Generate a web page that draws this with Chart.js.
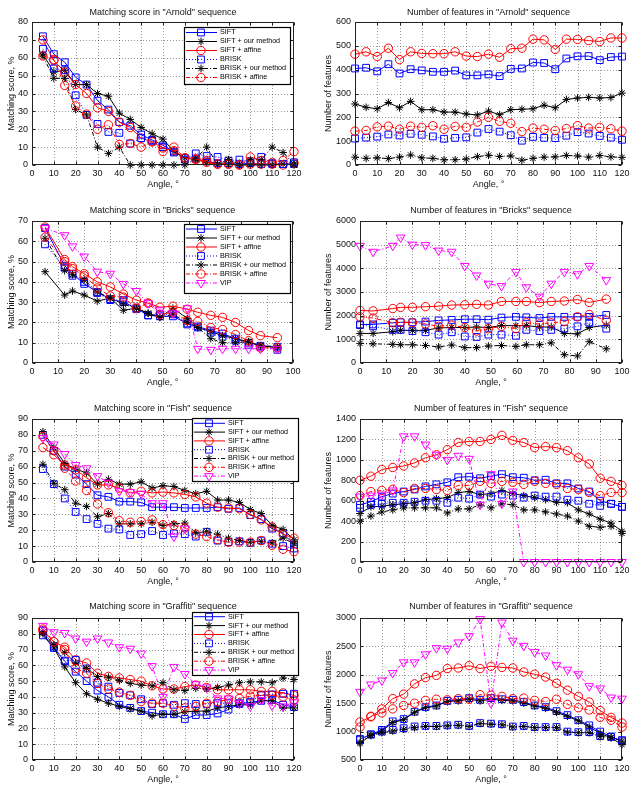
<!DOCTYPE html>
<html>
<head>
<meta charset="utf-8">
<script src="https://cdn.jsdelivr.net/npm/chart.js@4.4.1/dist/chart.umd.min.js"></script>
<style>
html, body { margin: 0; padding: 0; background: #fff; overflow: hidden; }
#page { position: relative; width: 635px; height: 787px; }
canvas { position: absolute; }
</style>
</head>
<body>
<div id="page"></div>
<script>
// Angles (x values)
const anglesFrom0 = [0, 5, 10, 15, 20, 25, 30, 35, 40, 45, 50, 55, 60, 65, 70, 75, 80, 85, 90, 95, 100, 105, 110, 115, 120];
const anglesFrom5 = [5, 10, 15, 20, 25, 30, 35, 40, 45, 50, 55, 60, 65, 70, 75, 80, 85, 90, 95, 100, 105, 110, 115, 120];
const bricksAngles = [0, 5, 12.5, 15.5, 20, 25, 30, 35, 40, 44.5, 49, 54, 59.5, 63.5, 68.5, 73, 78, 83, 87.5, 94];
const bricksScoreAngles = [5, 12.5, 15.5, 20, 25, 30, 35, 40, 44.5, 49, 54, 59.5, 63.5, 68.5, 73, 78, 83, 87.5, 94];
const fishVipScoreAngles = [5, 10, 15, 20, 25, 30, 35, 40, 45, 50, 55, 60, 65, 70];

// Tick labels
const xTicks120 = [0, 10, 20, 30, 40, 50, 60, 70, 80, 90, 100, 110, 120];
const xTicks100 = [0, 10, 20, 30, 40, 50, 60, 70, 80, 90, 100];
const yTicksArnoldScore = [0, 10, 20, 30, 40, 50, 60, 70, 80];
const yTicksArnoldFeat = [0, 100, 200, 300, 400, 500, 600];
const yTicksBricksScore = [0, 10, 20, 30, 40, 50, 60, 70];
const yTicksBricksFeat = [0, 1000, 2000, 3000, 4000, 5000, 6000];
const yTicksFishScore = [0, 10, 20, 30, 40, 50, 60, 70, 80, 90];
const yTicksFishFeat = [0, 200, 400, 600, 800, 1000, 1200, 1400];
const yTicksGraffitiScore = [0, 10, 20, 30, 40, 50, 60, 70, 80, 90];
const yTicksGraffitiFeat = [500, 1000, 1500, 2000, 2500, 3000];

// Arnold - matching score
const arnoldScoreSift = [72, 62, 57.5, 49, 45, 36, 31, 24, 22, 17, 14, 11, 7.5, 4, 3.5, 2, 1, 1, 0.5, 1, 0.5, 0.5, 0.5, 0.5];
const arnoldScoreSiftOur = [62, 52, 53, 45, 45, 40, 38.5, 29, 25.5, 21, 17.5, 14.5, 7.5, 4, 3, 1.5, 0.5, 0.5, 0, 0, 0, 0, 0.5, 0];
const arnoldScoreSiftAffine = [70, 58.5, 52, 45, 40, 32, 30, 24, 21, 15, 13, 9.5, 8, 4, 3.5, 1.5, 0.5, 0.5, 0, 0.5, 0.5, 0.5, 0, 1];
const arnoldScoreBrisk = [65, 54, 53, 39, 28, 23, 18.5, 18, 12, 15, 13.5, 10, 7, 3, 6.5, 5, 4.5, 2.5, 3, 2, 4.5, 1, 0.5, 1.5];
const arnoldScoreBriskOur = [61, 48.5, 48.5, 31, 28, 10, 6.5, 10, 0, 0, 0, 0, 0, 0, 3.5, 10, 0.5, 3, 0, 3, 3, 10, 7, 0.5];
const arnoldScoreBriskAffine = [61, 59, 44.5, 33, 28.5, 20, 22.5, 11.5, 12, 10, 13, 7.5, 10, 4, 3, 2.5, 0.5, 0.5, 0, 4.5, 2.5, 1.5, 2.5, 7.5];

// Arnold - number of features
const arnoldFeatSift = [405, 408, 393, 423, 384, 402, 397, 391, 391, 396, 376, 376, 380, 373, 403, 405, 430, 428, 402, 447, 456, 457, 440, 453, 455];
const arnoldFeatSiftOur = [256, 242, 236, 262, 240, 267, 232, 232, 222, 222, 214, 210, 226, 211, 232, 234, 236, 251, 240, 275, 281, 284, 281, 283, 302];
const arnoldFeatSiftAffine = [465, 475, 455, 490, 442, 475, 468, 467, 467, 475, 457, 455, 465, 452, 488, 490, 528, 525, 485, 528, 527, 522, 518, 533, 533];
const arnoldFeatBrisk = [111, 115, 119, 128, 124, 131, 127, 120, 110, 114, 116, 136, 151, 140, 125, 102, 118, 114, 113, 123, 138, 132, 122, 115, 106];
const arnoldFeatBriskOur = [33, 28, 30, 27, 33, 42, 30, 28, 22, 22, 25, 35, 41, 36, 38, 20, 28, 33, 34, 40, 38, 33, 40, 34, 32];
const arnoldFeatBriskAffine = [142, 145, 160, 163, 150, 163, 158, 165, 150, 162, 158, 180, 200, 183, 175, 140, 155, 150, 145, 153, 165, 155, 158, 152, 142];

// Bricks - matching score
const bricksScoreSift = [66.5, 48, 44, 39, 35, 31.5, 30, 27, 23.5, 23, 23, 19.5, 18, 16, 14.5, 12, 10, 8.5, 8];
const bricksScoreSiftOur = [45, 33.5, 35.5, 33.5, 30.5, 32, 26, 27, 24.5, 22.5, 27, 22, 17.5, 15.5, 13.5, 12, 10.5, 8.5, 7.5];
const bricksScoreSiftAffine = [67, 51, 47.5, 44, 40, 37.5, 34, 31, 29.5, 27.5, 28, 26.5, 25, 23.5, 22.5, 20, 16, 13.5, 12.5];
const bricksScoreBrisk = [58.5, 47, 43, 40, 34.5, 31, 31, 26.5, 23.5, 24, 24, 19, 17.5, 15, 13, 11, 9, 8, 6.5];
const bricksScoreBriskOur = [61.5, 45.5, 43.5, 41, 35, 32, 29, 27, 24.5, 22.5, 24, 20, 17.5, 12, 10, 10, 10.5, 8.5, 8];
const bricksScoreBriskAffine = [62, 50, 46.5, 43, 37, 33, 32.5, 27, 29.5, 24, 25, 21, 20.5, 17.5, 16.5, 14, 11, 7.5, 7.5];
const bricksScoreVip = [66.5, 63, 57.5, 52.5, 45, 44, 39, 35.5, 29.5, 26, 24.5, 27, 7, 6.5, 7, 7, 7, 7, 7];

// Bricks - number of features
const bricksFeatSift = [1630, 1630, 1700, 1720, 1720, 1750, 1800, 1820, 1850, 1850, 1830, 1920, 1950, 1930, 1900, 1950, 1950, 1950, 1950, 2030];
const bricksFeatSiftOur = [1250, 1250, 1320, 1380, 1380, 1380, 1480, 1500, 1500, 1520, 1500, 1580, 1580, 1580, 1520, 1520, 1250, 1230, 1500, 1600];
const bricksFeatSiftAffine = [2220, 2200, 2300, 2350, 2350, 2380, 2400, 2450, 2460, 2480, 2450, 2600, 2600, 2600, 2550, 2600, 2620, 2680, 2560, 2700];
const bricksFeatBrisk = [1600, 1550, 1400, 1400, 1350, 1300, 1200, 1300, 1120, 1100, 1200, 1200, 1150, 1400, 1350, 1400, 1450, 1550, 1700, 1450];
const bricksFeatBriskOur = [830, 810, 790, 770, 770, 740, 680, 760, 650, 650, 720, 740, 700, 770, 770, 850, 350, 300, 900, 600];
const bricksFeatBriskAffine = [1950, 1900, 1700, 1720, 1700, 1650, 1550, 1600, 1500, 1350, 1450, 1550, 1450, 1700, 1650, 1700, 1750, 1950, 2050, 1800];
const bricksFeatVip = [4950, 4700, 4950, 5300, 5000, 4980, 4750, 4700, 4100, 3700, 3350, 3250, 3850, 3200, 2800, 3350, 3850, 3750, 4100, 3500];

// Fish - matching score
const fishScoreSift = [80, 70, 60, 55, 49, 42, 41, 38, 38, 37.5, 34.5, 34.5, 34.5, 34, 34, 34, 34.5, 33.5, 34, 29.5, 27, 21, 18, 11];
const fishScoreSiftOur = [82, 72, 62, 58.5, 56, 49, 52, 49, 49, 50.5, 46.5, 48, 47.5, 45, 43, 44.5, 39, 39, 37.5, 33, 30.5, 23, 20.5, 14];
const fishScoreSiftAffine = [72, 67.5, 61, 58, 53, 48.5, 48.5, 46.5, 43.5, 44.5, 43.5, 44, 43.5, 42.5, 41, 37, 34.5, 34, 33.5, 30, 26.5, 22, 17.5, 15];
const fishScoreBrisk = [58.5, 49, 40, 31.5, 27, 24, 21, 20.5, 17, 17.5, 19.5, 17, 18, 17.5, 16, 19, 13.5, 12.5, 13, 12, 13.5, 11.5, 10, 8.5];
const fishScoreBriskOur = [61.5, 49.5, 45.5, 37, 35, 28.5, 30.5, 24, 24, 24, 25, 23, 24, 24.5, 18.5, 19, 17.5, 15, 13.5, 12.5, 13, 12, 15, 11.5];
const fishScoreBriskAffine = [79, 70, 59, 51, 45, 36.5, 31, 26, 25, 25.5, 26.5, 23.5, 23, 21.5, 17.5, 16, 14, 12.5, 12.5, 12.5, 13.5, 10.5, 8, 6.5];
const fishScoreVip = [78, 74, 68, 61, 59, 54, 50, 44.5, 44, 43, 37, 37, 16, 21];

// Fish - number of features
const fishFeatSift = [560, 590, 640, 670, 690, 710, 740, 760, 780, 830, 835, 820, 840, 860, 830, 825, 800, 805, 770, 770, 720, 690, 600, 570, 540];
const fishFeatSiftOur = [475, 540, 545, 560, 570, 580, 610, 620, 630, 680, 690, 660, 670, 700, 670, 650, 630, 610, 585, 580, 510, 470, 420, 380, 300];
const fishFeatSiftAffine = [800, 840, 905, 925, 940, 970, 1020, 1050, 1100, 1170, 1180, 1180, 1200, 1240, 1190, 1170, 1120, 1130, 1120, 1090, 1020, 960, 820, 790, 750];
const fishFeatBrisk = [530, 560, 570, 580, 580, 590, 600, 600, 580, 630, 620, 660, 640, 660, 650, 630, 650, 640, 640, 610, 600, 570, 550, 570, 540];
const fishFeatBriskOur = [400, 450, 490, 510, 530, 530, 530, 530, 480, 520, 520, 560, 530, 570, 560, 510, 510, 490, 470, 450, 400, 350, 340, 350, 280];
const fishFeatBriskAffine = [650, 690, 700, 710, 680, 720, 720, 710, 700, 750, 750, 790, 770, 790, 780, 760, 790, 770, 760, 720, 710, 680, 650, 680, 680];
const fishFeatVip = [640, 650, 660, 700, 1230, 1230, 1150, 1050, 1000, 1040, 1010, 560, 860, 570, 690, 0, 0, 0, 0, 0, 0, 0, 0, 0, 0];

// Graffiti - matching score
const graffitiScoreSift = [79, 71, 62.5, 56, 50, 44, 40, 35, 33, 31, 30, 29, 29, 26, 28.5, 28.5, 29.5, 32, 35.5, 36.5, 37.5, 38, 35, 33.5];
const graffitiScoreSiftOur = [80, 71, 59, 49, 42, 38.5, 36, 34, 32.5, 31, 28, 29, 29, 30.5, 31, 31, 33, 34, 35, 35, 37.5, 37.5, 33, 33];
const graffitiScoreSiftAffine = [82, 75, 71.5, 63.5, 61.5, 55, 53, 52, 51, 50, 47, 45, 45, 46.5, 47.5, 46, 44.5, 44.5, 44.5, 44.5, 43.5, 43.5, 42.5, 41];
const graffitiScoreBrisk = [82, 72, 63, 63.5, 58, 49, 46.5, 42.5, 41, 38.5, 35.5, 36, 35, 36, 35.5, 35.5, 36, 36, 36, 37, 41, 41.5, 42, 42];
const graffitiScoreBriskOur = [81, 73, 68, 61.5, 58, 53, 52.5, 50.5, 48.5, 47.5, 47, 49, 44.5, 44, 45.5, 45, 46, 47.5, 49, 49.5, 49.5, 49, 52, 51];
const graffitiScoreBriskAffine = [83, 75, 70, 58, 55, 48.5, 45, 43, 41, 37, 36, 36, 34, 33, 34, 36, 37, 38.5, 39, 40.5, 41, 41, 40, 38];
const graffitiScoreVip = [85, 81, 80.5, 77, 75, 77, 74.5, 71.5, 70.5, 67.5, 59.5, 40, 59, 54.5, 48, 46, 39, 39, 36, 34, 38, 34.5, 34, 36.5];

// Graffiti - number of features
const graffitiFeatSift = [870, 950, 1030, 1180, 1220, 1350, 1430, 1460, 1540, 1560, 1590, 1560, 1590, 1570, 1560, 1520, 1460, 1430, 1360, 1290, 1200, 1110, 1000, 910, 830];
const graffitiFeatSiftOur = [790, 940, 1010, 1160, 1210, 1340, 1420, 1450, 1530, 1540, 1570, 1540, 1570, 1550, 1540, 1500, 1450, 1410, 1340, 1270, 1190, 1080, 970, 890, 770];
const graffitiFeatSiftAffine = [1170, 1260, 1400, 1580, 1660, 1840, 1950, 1990, 2110, 2120, 2160, 2110, 2150, 2130, 2120, 2050, 2010, 1960, 1850, 1730, 1620, 1520, 1370, 1250, 1150];
const graffitiFeatBrisk = [850, 950, 1000, 1030, 1060, 1090, 1100, 1100, 1110, 1120, 1100, 1150, 1140, 1130, 1090, 1100, 1080, 1080, 1080, 1000, 990, 990, 920, 910, 850];
const graffitiFeatBriskOur = [810, 930, 980, 1010, 1040, 1070, 1090, 1090, 1100, 1110, 1090, 1140, 1130, 1120, 1080, 1090, 1070, 1070, 1070, 990, 980, 980, 910, 900, 830];
const graffitiFeatBriskAffine = [1080, 1270, 1330, 1400, 1460, 1500, 1550, 1570, 1560, 1580, 1570, 1650, 1640, 1620, 1580, 1590, 1550, 1530, 1570, 1480, 1420, 1380, 1250, 1200, 1080];
const graffitiFeatVip = [1700, 1830, 1900, 2030, 2220, 2220, 2360, 2470, 2460, 2570, 2680, 2980, 1500, 2920, 2600, 2510, 2400, 2340, 2170, 2090, 2010, 1800, 1760, 1600, 1580];

// Series look (MATLAB-like)
const DASHDOT = [4, 2, 1, 2];
const STYLES = {
    sift:        { label: 'SIFT',               color: '#0000ff', dash: [],      point: 'rect',     r: 4.8 },
    siftOur:     { label: 'SIFT + our method',  color: '#000000', dash: [],      point: 'star',     r: 3.8 },
    siftAffine:  { label: 'SIFT + affine',      color: '#ff0000', dash: [],      point: 'circle',   r: 4.2 },
    brisk:       { label: 'BRISK',              color: '#0000ff', dash: [1, 2],  point: 'rect',     r: 4.8 },
    briskOur:    { label: 'BRISK + our method', color: '#000000', dash: DASHDOT, point: 'star',     r: 3.8 },
    briskAffine: { label: 'BRISK + affine',     color: '#ff0000', dash: DASHDOT, point: 'circle',   r: 4.2 },
    vip:         { label: 'VIP',                color: '#ff00ff', dash: DASHDOT, point: 'triangle', r: 5, rot: 180 }
};

const SCORE_TITLE = 'Matching score, %';
const FEAT_TITLE = 'Number of features';

// plot: [left, top, right, bottom] in page pixels
const panels = [
    { title: 'Matching score in "Arnold" sequence', yTitle: SCORE_TITLE, col: 0, plot: [32, 22, 294, 165], titleY: 13,
      xMax: 120, xTicks: xTicks120, yTicks: yTicksArnoldScore,
      series: [['sift', anglesFrom5, arnoldScoreSift], ['siftOur', anglesFrom5, arnoldScoreSiftOur], ['siftAffine', anglesFrom5, arnoldScoreSiftAffine],
               ['brisk', anglesFrom5, arnoldScoreBrisk], ['briskOur', anglesFrom5, arnoldScoreBriskOur], ['briskAffine', anglesFrom5, arnoldScoreBriskAffine]],
      legend: { x: 184, y: 27, w: 106, h: 57, first: 5.5, step: 9 } },
    { title: 'Number of features in "Arnold" sequence', yTitle: FEAT_TITLE, col: 1, plot: [355, 22, 622, 165], titleY: 13,
      xMax: 120, xTicks: xTicks120, yTicks: yTicksArnoldFeat,
      series: [['sift', anglesFrom0, arnoldFeatSift], ['siftOur', anglesFrom0, arnoldFeatSiftOur], ['siftAffine', anglesFrom0, arnoldFeatSiftAffine],
               ['brisk', anglesFrom0, arnoldFeatBrisk], ['briskOur', anglesFrom0, arnoldFeatBriskOur], ['briskAffine', anglesFrom0, arnoldFeatBriskAffine]] },
    { title: 'Matching score in "Bricks" sequence', yTitle: SCORE_TITLE, col: 0, plot: [32, 221, 293, 363], titleY: 211,
      xMax: 100, xTicks: xTicks100, yTicks: yTicksBricksScore,
      series: [['sift', bricksScoreAngles, bricksScoreSift], ['siftOur', bricksScoreAngles, bricksScoreSiftOur], ['siftAffine', bricksScoreAngles, bricksScoreSiftAffine],
               ['brisk', bricksScoreAngles, bricksScoreBrisk], ['briskOur', bricksScoreAngles, bricksScoreBriskOur], ['briskAffine', bricksScoreAngles, bricksScoreBriskAffine],
               ['vip', bricksScoreAngles, bricksScoreVip]],
      legend: { x: 184, y: 224, w: 106, h: 69, first: 5, step: 9 } },
    { title: 'Number of features in "Bricks" sequence', yTitle: FEAT_TITLE, col: 1, plot: [360, 221, 622, 363], titleY: 211,
      xMax: 100, xTicks: xTicks100, yTicks: yTicksBricksFeat,
      series: [['sift', bricksAngles, bricksFeatSift], ['siftOur', bricksAngles, bricksFeatSiftOur], ['siftAffine', bricksAngles, bricksFeatSiftAffine],
               ['brisk', bricksAngles, bricksFeatBrisk], ['briskOur', bricksAngles, bricksFeatBriskOur], ['briskAffine', bricksAngles, bricksFeatBriskAffine],
               ['vip', bricksAngles, bricksFeatVip]] },
    { title: 'Matching score in "Fish" sequence', yTitle: SCORE_TITLE, col: 0, plot: [32, 419, 294, 562], titleY: 409,
      xMax: 120, xTicks: xTicks120, yTicks: yTicksFishScore,
      series: [['sift', anglesFrom5, fishScoreSift], ['siftOur', anglesFrom5, fishScoreSiftOur], ['siftAffine', anglesFrom5, fishScoreSiftAffine],
               ['brisk', anglesFrom5, fishScoreBrisk], ['briskOur', anglesFrom5, fishScoreBriskOur], ['briskAffine', anglesFrom5, fishScoreBriskAffine],
               ['vip', fishVipScoreAngles, fishScoreVip]],
      legend: { x: 192, y: 418, w: 106, h: 63, first: 5.3, step: 8.8 } },
    { title: 'Number of features in "Fish" sequence', yTitle: FEAT_TITLE, col: 1, plot: [360, 419, 622, 562], titleY: 409,
      xMax: 120, xTicks: xTicks120, yTicks: yTicksFishFeat,
      series: [['sift', anglesFrom0, fishFeatSift], ['siftOur', anglesFrom0, fishFeatSiftOur], ['siftAffine', anglesFrom0, fishFeatSiftAffine],
               ['brisk', anglesFrom0, fishFeatBrisk], ['briskOur', anglesFrom0, fishFeatBriskOur], ['briskAffine', anglesFrom0, fishFeatBriskAffine],
               ['vip', anglesFrom0, fishFeatVip]] },
    { title: 'Matching score in "Graffiti" sequence', yTitle: SCORE_TITLE, col: 0, plot: [32, 618, 294, 760], titleY: 607,
      xMax: 120, xTicks: xTicks120, yTicks: yTicksGraffitiScore,
      series: [['sift', anglesFrom5, graffitiScoreSift], ['siftOur', anglesFrom5, graffitiScoreSiftOur], ['siftAffine', anglesFrom5, graffitiScoreSiftAffine],
               ['brisk', anglesFrom5, graffitiScoreBrisk], ['briskOur', anglesFrom5, graffitiScoreBriskOur], ['briskAffine', anglesFrom5, graffitiScoreBriskAffine],
               ['vip', anglesFrom5, graffitiScoreVip]],
      legend: { x: 192, y: 612, w: 106, h: 63, first: 4.7, step: 8.9 } },
    { title: 'Number of features in "Graffiti" sequence', yTitle: FEAT_TITLE, col: 1, plot: [360, 618, 622, 760], titleY: 607,
      xMax: 120, xTicks: xTicks120, yTicks: yTicksGraffitiFeat,
      series: [['sift', anglesFrom0, graffitiFeatSift], ['siftOur', anglesFrom0, graffitiFeatSiftOur], ['siftAffine', anglesFrom0, graffitiFeatSiftAffine],
               ['brisk', anglesFrom0, graffitiFeatBrisk], ['briskOur', anglesFrom0, graffitiFeatBriskOur], ['briskAffine', anglesFrom0, graffitiFeatBriskAffine],
               ['vip', anglesFrom0, graffitiFeatVip]] }
];

Chart.defaults.font.family = '"Liberation Sans", Arial, sans-serif';
Chart.defaults.font.size = 9;
Chart.defaults.color = '#111';

function drawMarker(ctx, st, x, y) {
    const r = st.r;
    ctx.beginPath();
    if (st.point === 'rect') {
        const s = r * Math.SQRT1_2;
        ctx.rect(x - s, y - s, 2 * s, 2 * s);
    } else if (st.point === 'circle') {
        ctx.arc(x, y, r, 0, Math.PI * 2);
    } else if (st.point === 'star') {
        for (let k = 0; k < 4; k++) {
            const a = k * Math.PI / 4;
            ctx.moveTo(x - Math.cos(a) * r, y - Math.sin(a) * r);
            ctx.lineTo(x + Math.cos(a) * r, y + Math.sin(a) * r);
        }
    } else if (st.point === 'triangle') {
        let a = (st.rot || 0) * Math.PI / 180;
        ctx.moveTo(x + Math.sin(a) * r, y - Math.cos(a) * r);
        a += Math.PI * 2 / 3;
        ctx.lineTo(x + Math.sin(a) * r, y - Math.cos(a) * r);
        a += Math.PI * 2 / 3;
        ctx.lineTo(x + Math.sin(a) * r, y - Math.cos(a) * r);
        ctx.closePath();
    }
    ctx.stroke();
}

// grid, box and inward ticks, title and legend
function makeDecor(p, cx, cy) {
    return {
        id: 'matlabDecor',
        beforeDatasetsDraw(chart) {
            const { ctx, chartArea: a, scales: { x, y } } = chart;
            ctx.save();
            ctx.strokeStyle = 'rgba(0,0,0,0.4)';
            ctx.lineWidth = 1;
            ctx.setLineDash([1, 2]);
            x.ticks.forEach(t => {
                const px = Math.round(x.getPixelForValue(t.value)) + 0.5;
                if (px <= a.left + 1 || px >= a.right - 1) return;
                ctx.beginPath(); ctx.moveTo(px, a.top); ctx.lineTo(px, a.bottom); ctx.stroke();
            });
            y.ticks.forEach(t => {
                const py = Math.round(y.getPixelForValue(t.value)) + 0.5;
                if (py <= a.top + 1 || py >= a.bottom - 1) return;
                ctx.beginPath(); ctx.moveTo(a.left, py); ctx.lineTo(a.right, py); ctx.stroke();
            });
            ctx.restore();
        },
        afterDraw(chart) {
            const { ctx, chartArea: a, scales: { x, y } } = chart;
            ctx.save();
            ctx.strokeStyle = '#222';
            ctx.lineWidth = 1;
            const L = Math.round(a.left) + 0.5, R = Math.round(a.right) - 0.5;
            const T = Math.round(a.top) + 0.5, B = Math.round(a.bottom) - 0.5;
            ctx.strokeRect(L, T, R - L, B - T);
            ctx.beginPath();
            x.ticks.forEach(t => {
                const px = Math.round(x.getPixelForValue(t.value)) + 0.5;
                ctx.moveTo(px, B); ctx.lineTo(px, B - 3);
                ctx.moveTo(px, T); ctx.lineTo(px, T + 3);
            });
            y.ticks.forEach(t => {
                const py = Math.round(y.getPixelForValue(t.value)) + 0.5;
                ctx.moveTo(L, py); ctx.lineTo(L + 3, py);
                ctx.moveTo(R, py); ctx.lineTo(R - 3, py);
            });
            ctx.stroke();

            // title
            ctx.fillStyle = '#111';
            ctx.font = '9px "Liberation Sans", Arial, sans-serif';
            ctx.textAlign = 'center';
            ctx.textBaseline = 'middle';
            ctx.fillText(p.title, (a.left + a.right) / 2, p.titleY - cy);

            // legend
            if (p.legend) {
                const lg = p.legend;
                const lx = lg.x - cx, ly = lg.y - cy;
                ctx.fillStyle = '#fff';
                ctx.fillRect(lx, ly, lg.w, lg.h);
                ctx.strokeStyle = '#000';
                ctx.lineWidth = 1.2;
                ctx.strokeRect(lx + 0.5, ly + 0.5, lg.w, lg.h);
                ctx.font = '7.2px "Liberation Sans", Arial, sans-serif';
                ctx.textAlign = 'left';
                p.series.forEach((s, i) => {
                    const st = STYLES[s[0]];
                    const ry = ly + lg.first + i * lg.step;
                    ctx.strokeStyle = st.color;
                    ctx.lineWidth = 1;
                    ctx.setLineDash(st.dash);
                    ctx.beginPath(); ctx.moveTo(lx + 2, ry); ctx.lineTo(lx + 33, ry); ctx.stroke();
                    ctx.setLineDash([]);
                    drawMarker(ctx, st, lx + 17, ry);
                    ctx.fillStyle = '#000';
                    ctx.fillText(st.label, lx + 36, ry);
                });
            }
            ctx.restore();
        }
    };
}

const page = document.getElementById('page');

panels.forEach(p => {
    const [pl, pt, pr, pb] = p.plot;
    const cx = p.col ? 317 : 0;
    const cw = p.col ? 318 : 317;
    const cy = pt - 22;
    const ch = pb - cy + 30;
    const canvas = document.createElement('canvas');
    canvas.width = cw;
    canvas.height = ch;
    canvas.style.left = cx + 'px';
    canvas.style.top = cy + 'px';
    page.appendChild(canvas);

    const n = p.series.length;
    new Chart(canvas, {
        type: 'line',
        data: {
            datasets: p.series.map((s, i) => {
                const st = STYLES[s[0]];
                return {
                    label: st.label,
                    data: s[2].map((v, j) => ({ x: s[1][j], y: v })),
                    borderColor: st.color,
                    borderWidth: 1,
                    borderDash: st.dash,
                    pointStyle: st.point,
                    pointRadius: st.r,
                    pointRotation: st.rot || 0,
                    pointBorderColor: st.color,
                    pointBackgroundColor: 'rgba(0,0,0,0)',
                    pointBorderWidth: 1,
                    fill: false,
                    tension: 0,
                    clip: false,
                    order: n - i
                };
            })
        },
        options: {
            responsive: false,
            animation: false,
            devicePixelRatio: 1,
            layout: { padding: { left: 0, top: pt - cy, right: cx + cw - pr, bottom: 0 } },
            plugins: { legend: { display: false }, tooltip: { enabled: false }, title: { display: false } },
            scales: {
                x: {
                    type: 'linear', min: 0, max: p.xMax,
                    afterBuildTicks: s => { s.ticks = p.xTicks.map(v => ({ value: v })); },
                    ticks: { autoSkip: false, maxRotation: 0, padding: 3.5, color: '#111', callback: v => String(v) },
                    grid: { display: false, drawTicks: false },
                    border: { display: false },
                    title: { display: true, text: 'Angle, °', color: '#111', padding: { top: 0, bottom: 5 } },
                    afterFit: s => { s.height = 30; }
                },
                y: {
                    type: 'linear', min: p.yTicks[0], max: p.yTicks[p.yTicks.length - 1],
                    afterBuildTicks: s => { s.ticks = p.yTicks.map(v => ({ value: v })); },
                    ticks: { autoSkip: false, padding: 4, color: '#111', callback: v => String(v) },
                    grid: { display: false, drawTicks: false },
                    border: { display: false },
                    title: { display: true, text: p.yTitle, color: '#111', padding: { top: 6, bottom: 0 } },
                    afterFit: s => { s.width = pl - cx; }
                }
            }
        },
        plugins: [makeDecor(p, cx, cy)]
    });
});
</script>
</body>
</html>
